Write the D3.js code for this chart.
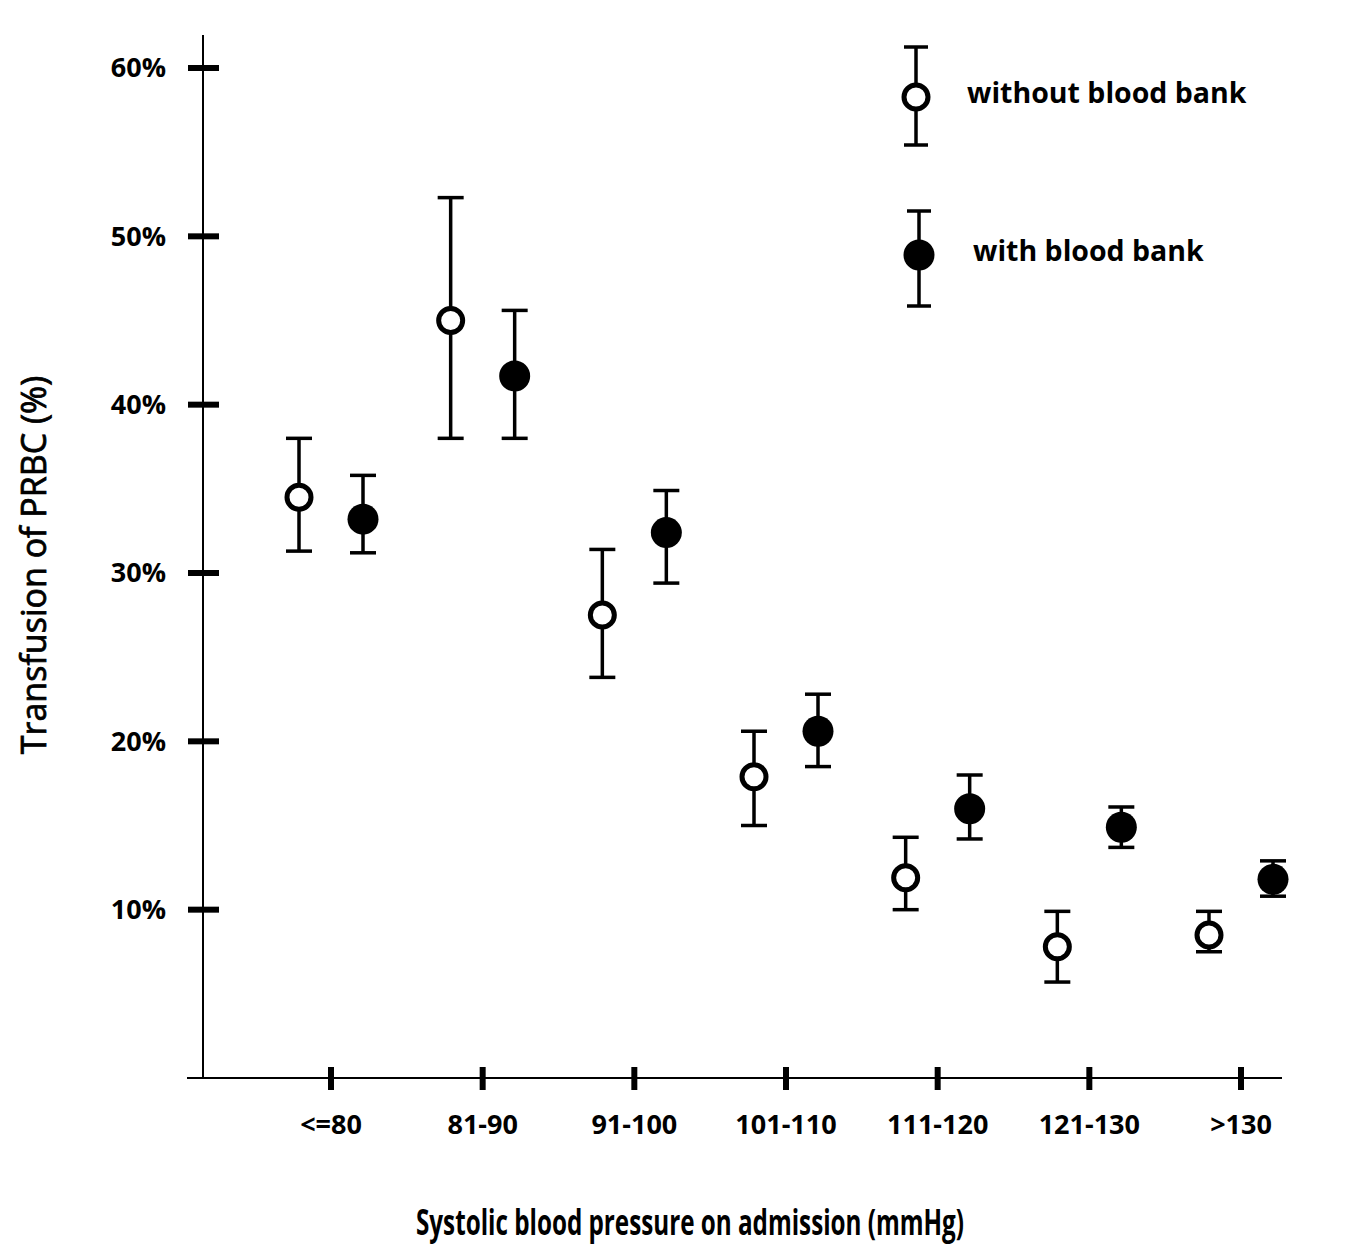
<!DOCTYPE html>
<html>
<head>
<style>
body { margin: 0; background: #fff; }
text { font-family: "Open Sans", sans-serif; fill: #000; }
</style>
</head>
<body>
<script src="https://cdn.jsdelivr.net/npm/d3@7"></script>
<script>
// data
var categories = ["<=80", "81-90", "91-100", "101-110", "111-120", "121-130", ">130"];
var withoutVal = [34.5, 45.0, 27.5, 17.9, 11.9, 7.8, 8.5];
var withoutLo  = [31.3, 38.0, 23.8, 15.0, 10.0, 5.7, 7.5];
var withoutHi  = [38.0, 52.3, 31.4, 20.6, 14.3, 9.9, 9.9];
var withVal = [33.2, 41.7, 32.4, 20.6, 16.0, 14.9, 11.8];
var withLo  = [31.2, 38.0, 29.4, 18.5, 14.2, 13.7, 10.8];
var withHi  = [35.8, 45.6, 34.9, 22.8, 18.0, 16.1, 12.9];
var yTicks = [10, 20, 30, 40, 50, 60];

var W = 1362, H = 1247;
var svg = d3.select("body").append("svg")
    .attr("width", W)
    .attr("height", H);

var x = d3.scalePoint().domain(categories).range([331, 1241]);
var y = d3.scaleLinear().domain([0, 60]).range([1078, 68]);

// axis lines
svg.append("line").attr("x1", 203).attr("x2", 203).attr("y1", 35).attr("y2", y(0))
   .attr("stroke", "#000").attr("stroke-width", 2);
svg.append("line").attr("x1", 187).attr("x2", 1282).attr("y1", y(0)).attr("y2", y(0))
   .attr("stroke", "#000").attr("stroke-width", 2);

// y ticks
var yt = svg.selectAll(".ytick").data(yTicks).enter().append("g")
    .attr("transform", function(d) { return "translate(0," + y(d) + ")"; });
yt.append("line").attr("x1", 188).attr("x2", 219).attr("stroke", "#000").attr("stroke-width", 6);
yt.append("text").attr("x", 166).attr("dy", "0.35em").attr("text-anchor", "end")
  .style("font-size", "27px").style("font-weight", "700")
  .text(function(d) { return d + "%"; });

// x ticks
var xt = svg.selectAll(".xtick").data(categories).enter().append("g")
    .attr("transform", function(d) { return "translate(" + x(d) + "," + y(0) + ")"; });
xt.append("line").attr("y1", -11).attr("y2", 12).attr("stroke", "#000").attr("stroke-width", 6);
xt.append("text").attr("y", 56).attr("text-anchor", "middle")
  .style("font-size", "27px").style("font-weight", "700")
  .text(function(d) { return d; });

// error bars + markers
function drawSeries(vals, lo, hi, dx, filled) {
  var g = svg.append("g");
  var items = categories.map(function(c, i) { return { c: c, v: vals[i], lo: lo[i], hi: hi[i] }; });
  var e = g.selectAll("g").data(items).enter().append("g")
      .attr("transform", function(d) { return "translate(" + (x(d.c) + dx) + ",0)"; });
  e.append("line").attr("y1", function(d) { return y(d.lo); }).attr("y2", function(d) { return y(d.hi); })
    .attr("stroke", "#000").attr("stroke-width", 3.5);
  e.append("line").attr("x1", -13).attr("x2", 13)
    .attr("y1", function(d) { return y(d.hi); }).attr("y2", function(d) { return y(d.hi); })
    .attr("stroke", "#000").attr("stroke-width", 3.5);
  e.append("line").attr("x1", -13).attr("x2", 13)
    .attr("y1", function(d) { return y(d.lo); }).attr("y2", function(d) { return y(d.lo); })
    .attr("stroke", "#000").attr("stroke-width", 3.5);
  e.append("circle").attr("cy", function(d) { return y(d.v); })
    .attr("r", filled ? 15.5 : 12)
    .attr("fill", filled ? "#000" : "#fff")
    .attr("stroke", "#000").attr("stroke-width", filled ? 0 : 5);
}
drawSeries(withoutVal, withoutLo, withoutHi, -32, false);
drawSeries(withVal, withLo, withHi, 32, true);

// legend
var legend = [
  { label: "without blood bank", filled: false, cx: 916, cy: 97, top: 47, bot: 145, tx: 967 },
  { label: "with blood bank", filled: true, cx: 919, cy: 255, top: 211, bot: 306, tx: 973 }
];
var lg = svg.selectAll(".leg").data(legend).enter().append("g");
lg.append("line").attr("x1", function(d) { return d.cx; }).attr("x2", function(d) { return d.cx; })
  .attr("y1", function(d) { return d.top; }).attr("y2", function(d) { return d.bot; })
  .attr("stroke", "#000").attr("stroke-width", 3.5);
lg.append("line").attr("x1", function(d) { return d.cx - 12; }).attr("x2", function(d) { return d.cx + 12; })
  .attr("y1", function(d) { return d.top; }).attr("y2", function(d) { return d.top; })
  .attr("stroke", "#000").attr("stroke-width", 3.5);
lg.append("line").attr("x1", function(d) { return d.cx - 12; }).attr("x2", function(d) { return d.cx + 12; })
  .attr("y1", function(d) { return d.bot; }).attr("y2", function(d) { return d.bot; })
  .attr("stroke", "#000").attr("stroke-width", 3.5);
lg.append("circle").attr("cx", function(d) { return d.cx; }).attr("cy", function(d) { return d.cy; })
  .attr("r", function(d) { return d.filled ? 15.5 : 12; })
  .attr("fill", function(d) { return d.filled ? "#000" : "#fff"; })
  .attr("stroke", "#000").attr("stroke-width", function(d) { return d.filled ? 0 : 5; });
lg.append("text").attr("x", function(d) { return d.tx; }).attr("y", function(d) { return d.cy - 4; })
  .attr("dy", "0.35em")
  .style("font-size", "28.5px").style("font-weight", "700")
  .text(function(d) { return d.label; });

// axis titles
svg.append("text").attr("x", 690).attr("y", 1235).attr("text-anchor", "middle")
  .attr("textLength", 548).attr("lengthAdjust", "spacingAndGlyphs")
  .style("font-size", "35px").style("font-weight", "700")
  .text("Systolic blood pressure on admission (mmHg)");
svg.append("text").attr("transform", "translate(46,565) rotate(-90)").attr("text-anchor", "middle")
  .style("font-size", "34px").style("font-weight", "400")
  .attr("stroke", "#000").attr("stroke-width", 0.8)
  .text("Transfusion of PRBC (%)");
</script>
</body>
</html>
